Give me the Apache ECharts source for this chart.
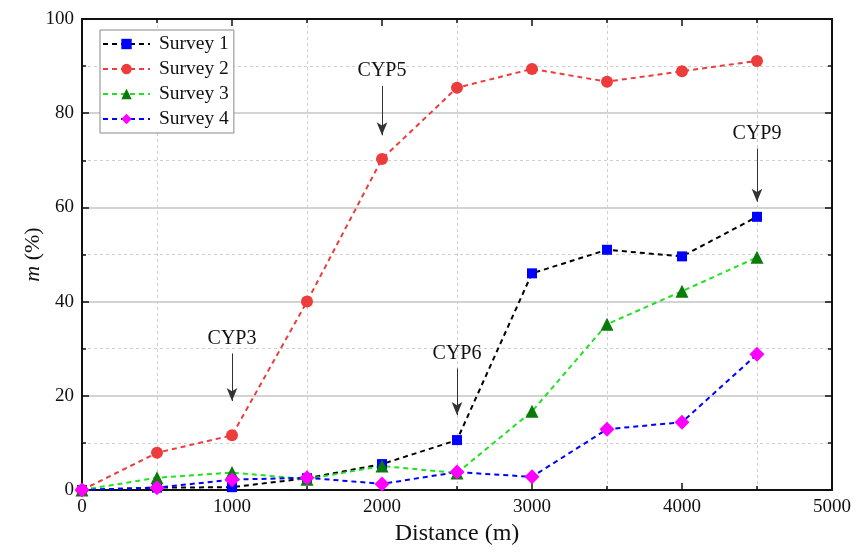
<!DOCTYPE html>
<html style="height: 100%">
<head>
    <meta charset="utf-8">
</head>
<body style="margin:0">
<div id="container" style="width:858px;height:552px"></div>
<script src="https://cdn.jsdelivr.net/npm/echarts@6/dist/echarts.min.js"></script>
<script type="text/javascript">
    // distance along the line (m)
    var distance = [0, 500, 1000, 1500, 2000, 2500, 3000, 3500, 4000, 4500];
    // m (%) for each survey
    var survey1 = [0, 0.5, 0.6, 2.5, 5.5, 10.6, 46.0, 51.0, 49.6, 58.0];
    var survey2 = [0, 7.9, 11.6, 40.0, 70.3, 85.4, 89.4, 86.7, 88.9, 91.1];
    var survey3 = [0, 2.6, 3.7, 2.3, 5.1, 3.6, 16.7, 35.2, 42.2, 49.4];
    var survey4 = [0, 0.5, 2.2, 2.6, 1.3, 3.8, 2.8, 12.9, 14.4, 28.8];

    // annotations: name, distance, arrow start, arrow end (in % units)
    var notes = [
        {name: 'CYP3', x: 1000, from: 29.0, to: 18.9},
        {name: 'CYP5', x: 2000, from: 85.8, to: 75.3},
        {name: 'CYP6', x: 2500, from: 25.8, to: 15.9},
        {name: 'CYP9', x: 4500, from: 72.5, to: 61.2}
    ];

    var serif = 'Liberation Serif';
    var ink = '#111';

    function pairs(ys) {
        return distance.map(function (d, i) { return [d, ys[i]]; });
    }

    function makeSeries(name, ys, lineColor, markColor, symbol, size) {
        return {
            name: name,
            type: 'line',
            data: pairs(ys),
            symbol: symbol,
            symbolSize: size,
            lineStyle: {color: lineColor, width: 2, type: [5, 4]},
            itemStyle: {color: markColor},
            emphasis: {disabled: true}
        };
    }

    var series = [
        makeSeries('Survey 1', survey1, '#000000', '#0000ff', 'rect', 10),
        makeSeries('Survey 2', survey2, '#ec3c3c', '#ec3c3c', 'circle', 12),
        makeSeries('Survey 3', survey3, '#22e022', '#0a7a0a', 'triangle', 13),
        makeSeries('Survey 4', survey4, '#0000ff', '#ff00ff', 'diamond', 15)
    ];

    // arrows with labels
    series[0].markLine = {
        silent: true,
        symbol: ['none', 'arrow'],
        symbolSize: [8, 13],
        lineStyle: {color: '#333', width: 1, type: 'solid'},
        label: {
            show: true,
            position: 'start',
            distance: 5,
            formatter: '{b}',
            color: ink,
            fontFamily: serif,
            fontSize: 20
        },
        data: notes.map(function (n) {
            return [{name: n.name, coord: [n.x, n.from]}, {coord: [n.x, n.to]}];
        })
    };

    // invisible helper so the top / right frame axes are not blank
    series.push({
        type: 'line',
        xAxisIndex: 1,
        yAxisIndex: 1,
        data: [[0, 0], [5000, 100]],
        showSymbol: false,
        silent: true,
        lineStyle: {opacity: 0},
        tooltip: {show: false}
    });

    var tickStyle = {color: ink, width: 1.5};

    function frameAxis(extra) {
        var a = {
            type: 'value',
            axisLine: {show: true, onZero: false, lineStyle: {color: ink, width: 2}},
            axisTick: {show: true, inside: true, length: 7, lineStyle: tickStyle},
            minorTick: {show: true, splitNumber: 2, length: 4, lineStyle: tickStyle},
            axisLabel: {show: false},
            splitLine: {show: false}
        };
        for (var k in extra) a[k] = extra[k];
        return a;
    }

    var myChart = echarts.init(document.getElementById('container'));

    var option = {
        animation: false,
        grid: {left: 82, right: 26, top: 19, bottom: 62},
        legend: {
            orient: 'vertical',
            left: 100,
            top: 30,
            padding: [4, 5, 4, 2],
            itemGap: 5,
            itemWidth: 47,
            itemHeight: 13,
            borderColor: '#888',
            borderWidth: 1,
            backgroundColor: '#fff',
            textStyle: {fontFamily: serif, fontSize: 19.5, color: ink, padding: [0, 0, 0, 4]},
            data: ['Survey 1', 'Survey 2', 'Survey 3', 'Survey 4']
        },
        xAxis: [frameAxis({
            min: 0,
            max: 5000,
            interval: 1000,
            name: 'Distance (m)',
            nameLocation: 'middle',
            nameGap: 29,
            nameTextStyle: {fontFamily: serif, fontSize: 24, color: ink},
            axisLabel: {
                show: true, fontFamily: serif, fontSize: 19, color: ink, margin: 8,
                formatter: function (v) { return String(v); }
            },
            minorSplitLine: {show: true, lineStyle: {color: '#cfcfcf', type: [3, 3]}}
        }), frameAxis({
            position: 'top',
            min: 0,
            max: 5000,
            interval: 1000
        })],
        yAxis: [frameAxis({
            min: 0,
            max: 100,
            interval: 20,
            name: '{i|m} (%)',
            nameLocation: 'middle',
            nameGap: 38,
            nameMoveOverlap: false,
            nameTextStyle: {
                fontFamily: serif, fontSize: 22, color: ink,
                rich: {i: {fontFamily: serif, fontSize: 22, fontStyle: 'italic', color: ink}}
            },
            axisLabel: {
                show: true, fontFamily: serif, fontSize: 19, color: ink, margin: 8,
                formatter: function (v) { return String(v); }
            },
            splitLine: {show: true, lineStyle: {color: '#c4c4c4', width: 1.5}},
            minorSplitLine: {show: true, lineStyle: {color: '#cfcfcf', type: [3, 3]}}
        }), frameAxis({
            position: 'right',
            min: 0,
            max: 100,
            interval: 20
        })],
        series: series
    };

    myChart.setOption(option);
</script>
</body>
</html>
